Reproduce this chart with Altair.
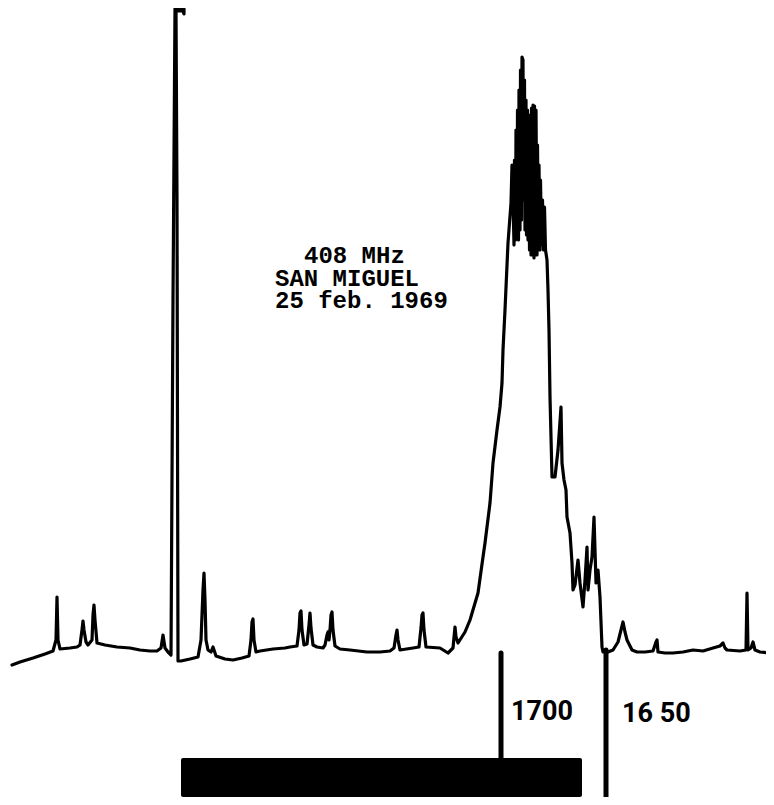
import altair as alt
import pandas as pd

# Strip-chart trace: horizontal paper position and pen position (paper row, measured from top)
trace_x = [12, 20, 33, 45, 53, 56, 57, 58, 60, 70, 77, 80, 82, 83, 84, 86, 88, 92, 93, 94, 95, 97,
           105, 117, 130, 140, 150, 157, 161, 163, 165, 168, 171,
           173, 175, 184, 184, 183, 176, 177, 178, 181,
           190, 198, 201, 203, 204, 205, 206, 208, 211, 213, 216, 225, 233, 242, 249, 251, 252, 253, 254,
           256, 260, 273, 285, 290, 297, 299, 300, 301, 302, 304, 307, 309, 310, 311, 313, 317, 323, 325,
           327, 328, 329, 330, 331, 332, 333, 335, 340, 350, 367, 380, 390, 394, 396, 397, 398, 400, 413,
           419, 421, 422, 423, 424, 426, 440, 448, 453, 455, 456, 458, 465, 470, 478, 483, 485, 490, 493,
           497, 500, 502, 503,
           505, 508, 511, 512, 513, 514, 514.5, 515.5, 516, 517, 517.5, 518.5, 519, 520, 520.5, 521.5,
           522, 523, 523.5, 524.5, 525, 526, 526.5, 527.5, 528, 528.5, 529.5, 530, 531, 531.5, 532.5,
           533, 534, 534.5, 535.5, 536, 537, 537.5, 538.5, 539, 540, 540.5, 541.5, 542.5, 543.5, 544.5,
           545.5, 547, 548, 549,
           550, 552, 555, 558, 561, 562, 564, 566, 567, 570, 572, 573, 575, 578, 580, 583, 585, 587,
           588, 590, 592, 594, 596, 598, 600, 602, 603, 608, 613, 618, 621, 623, 625, 627, 632, 637, 645,
           653, 656, 657, 658, 665, 673, 683, 693, 703, 713, 720, 723, 725, 727, 740, 746, 747, 748, 751,
           753, 755, 760, 770]
trace_row = [665, 662, 658, 654, 651, 640, 597, 640, 649, 648, 647, 645, 630, 621, 630, 642, 645, 640, 615, 605, 620, 643,
             645, 647, 648, 650, 651, 651, 648, 635, 648, 652, 655,
             300, 9, 9, 14, 11, 11, 200, 661, 661,
             659, 657, 640, 590, 573, 600, 640, 650, 652, 647, 656, 659, 660, 658, 656, 640, 622, 619, 640,
             652, 651, 649, 648, 647, 646, 630, 613, 611, 630, 645, 644, 625, 613, 628, 645, 647, 648, 645,
             635, 632, 640, 630, 615, 612, 630, 646, 649, 650, 652, 652, 651, 648, 635, 630, 640, 650, 648,
             647, 628, 615, 613, 630, 647, 648, 653, 648, 627, 637, 643, 632, 620, 593, 557, 543, 503, 463,
             430, 407, 383, 350,
             310, 243, 203, 165, 200, 245, 160, 240, 130, 238, 110, 240, 90, 230, 70, 220,
             57, 60, 200, 80, 230, 100, 235, 110, 240, 120, 250, 115, 255, 108, 255,
             105, 258, 106, 255, 110, 255, 145, 250, 165, 250, 180, 245, 200, 250, 207,
             250, 260, 290, 330,
             397, 477, 477, 450, 407, 463, 480, 490, 517, 533, 563, 590, 585, 560, 583, 607, 580, 547,
             590, 570, 557, 517, 583, 570, 597, 647, 652, 652, 650, 642, 630, 622, 632, 640, 650, 652, 652,
             651, 642, 640, 652, 653, 653, 652, 650, 651, 648, 646, 643, 648, 650, 651, 650, 593, 650, 648,
             642, 650, 652, 653]

# Time marks (local time) and observing bar along the paper
marker_x = [501, 606]
marker_text = ["1700", "16 50"]
bar_start = [181]
bar_end = [582]

title_lines = ["408 MHz", "SAN MIGUEL", "25 feb. 1969"]

trace = pd.DataFrame({"x": trace_x, "row": trace_row, "i": list(range(len(trace_x)))})

X = alt.Scale(domain=[8, 766])
Y = alt.Scale(domain=[8, 797], reverse=True)

line = alt.Chart(trace).mark_line(
    color="black", strokeWidth=3.2, strokeJoin="round", strokeCap="round", clip=True
).encode(
    x=alt.X("x:Q", scale=X, axis=None),
    y=alt.Y("row:Q", scale=Y, axis=None),
    order="i:Q",
)

layers = [line]

# observing bar
bar = alt.Chart(pd.DataFrame({"start": bar_start, "end": bar_end})).mark_rect(
    color="black", cornerRadius=2
).encode(
    x=alt.X("start:Q", scale=X, axis=None),
    x2="end:Q",
    y=alt.value(750),
    y2=alt.value(789),
)
layers.append(bar)

marker_style = [
    {"top": 645, "bottom": 752, "dx": 10, "ty": 712},
    {"top": 642, "bottom": 789, "dx": 16, "ty": 714},
]
for xv, txt, st in zip(marker_x, marker_text, marker_style):
    d = pd.DataFrame({"x": [xv], "label": [txt]})
    rule = alt.Chart(d).mark_rule(color="black", strokeWidth=5, strokeCap="round").encode(
        x=alt.X("x:Q", scale=X, axis=None),
        y=alt.value(st["top"]),
        y2=alt.value(st["bottom"]),
    )
    lab = alt.Chart(d).mark_text(
        font="Roboto", fontWeight="bold", fontSize=27, align="left", baseline="alphabetic",
        dx=st["dx"], color="black",
    ).encode(
        x=alt.X("x:Q", scale=X, axis=None),
        y=alt.value(st["ty"]),
        text="label:N",
    )
    layers += [rule, lab]

title_pos = [(296, 255), (267, 278), (267, 300)]
for txt, (px, py) in zip(title_lines, title_pos):
    t = alt.Chart(pd.DataFrame({"t": [txt]})).mark_text(
        font="Liberation Mono", fontWeight="bold", fontSize=24,
        align="left", baseline="alphabetic", color="black",
    ).encode(x=alt.value(px), y=alt.value(py), text="t:N")
    layers.append(t)

chart = alt.layer(*layers).properties(
    width=758, height=789, padding=0,
    autosize=alt.AutoSizeParams(type="none"),
).configure_view(stroke=None)

chart.save("out.html", embed_options={"renderer": "svg", "actions": False})
